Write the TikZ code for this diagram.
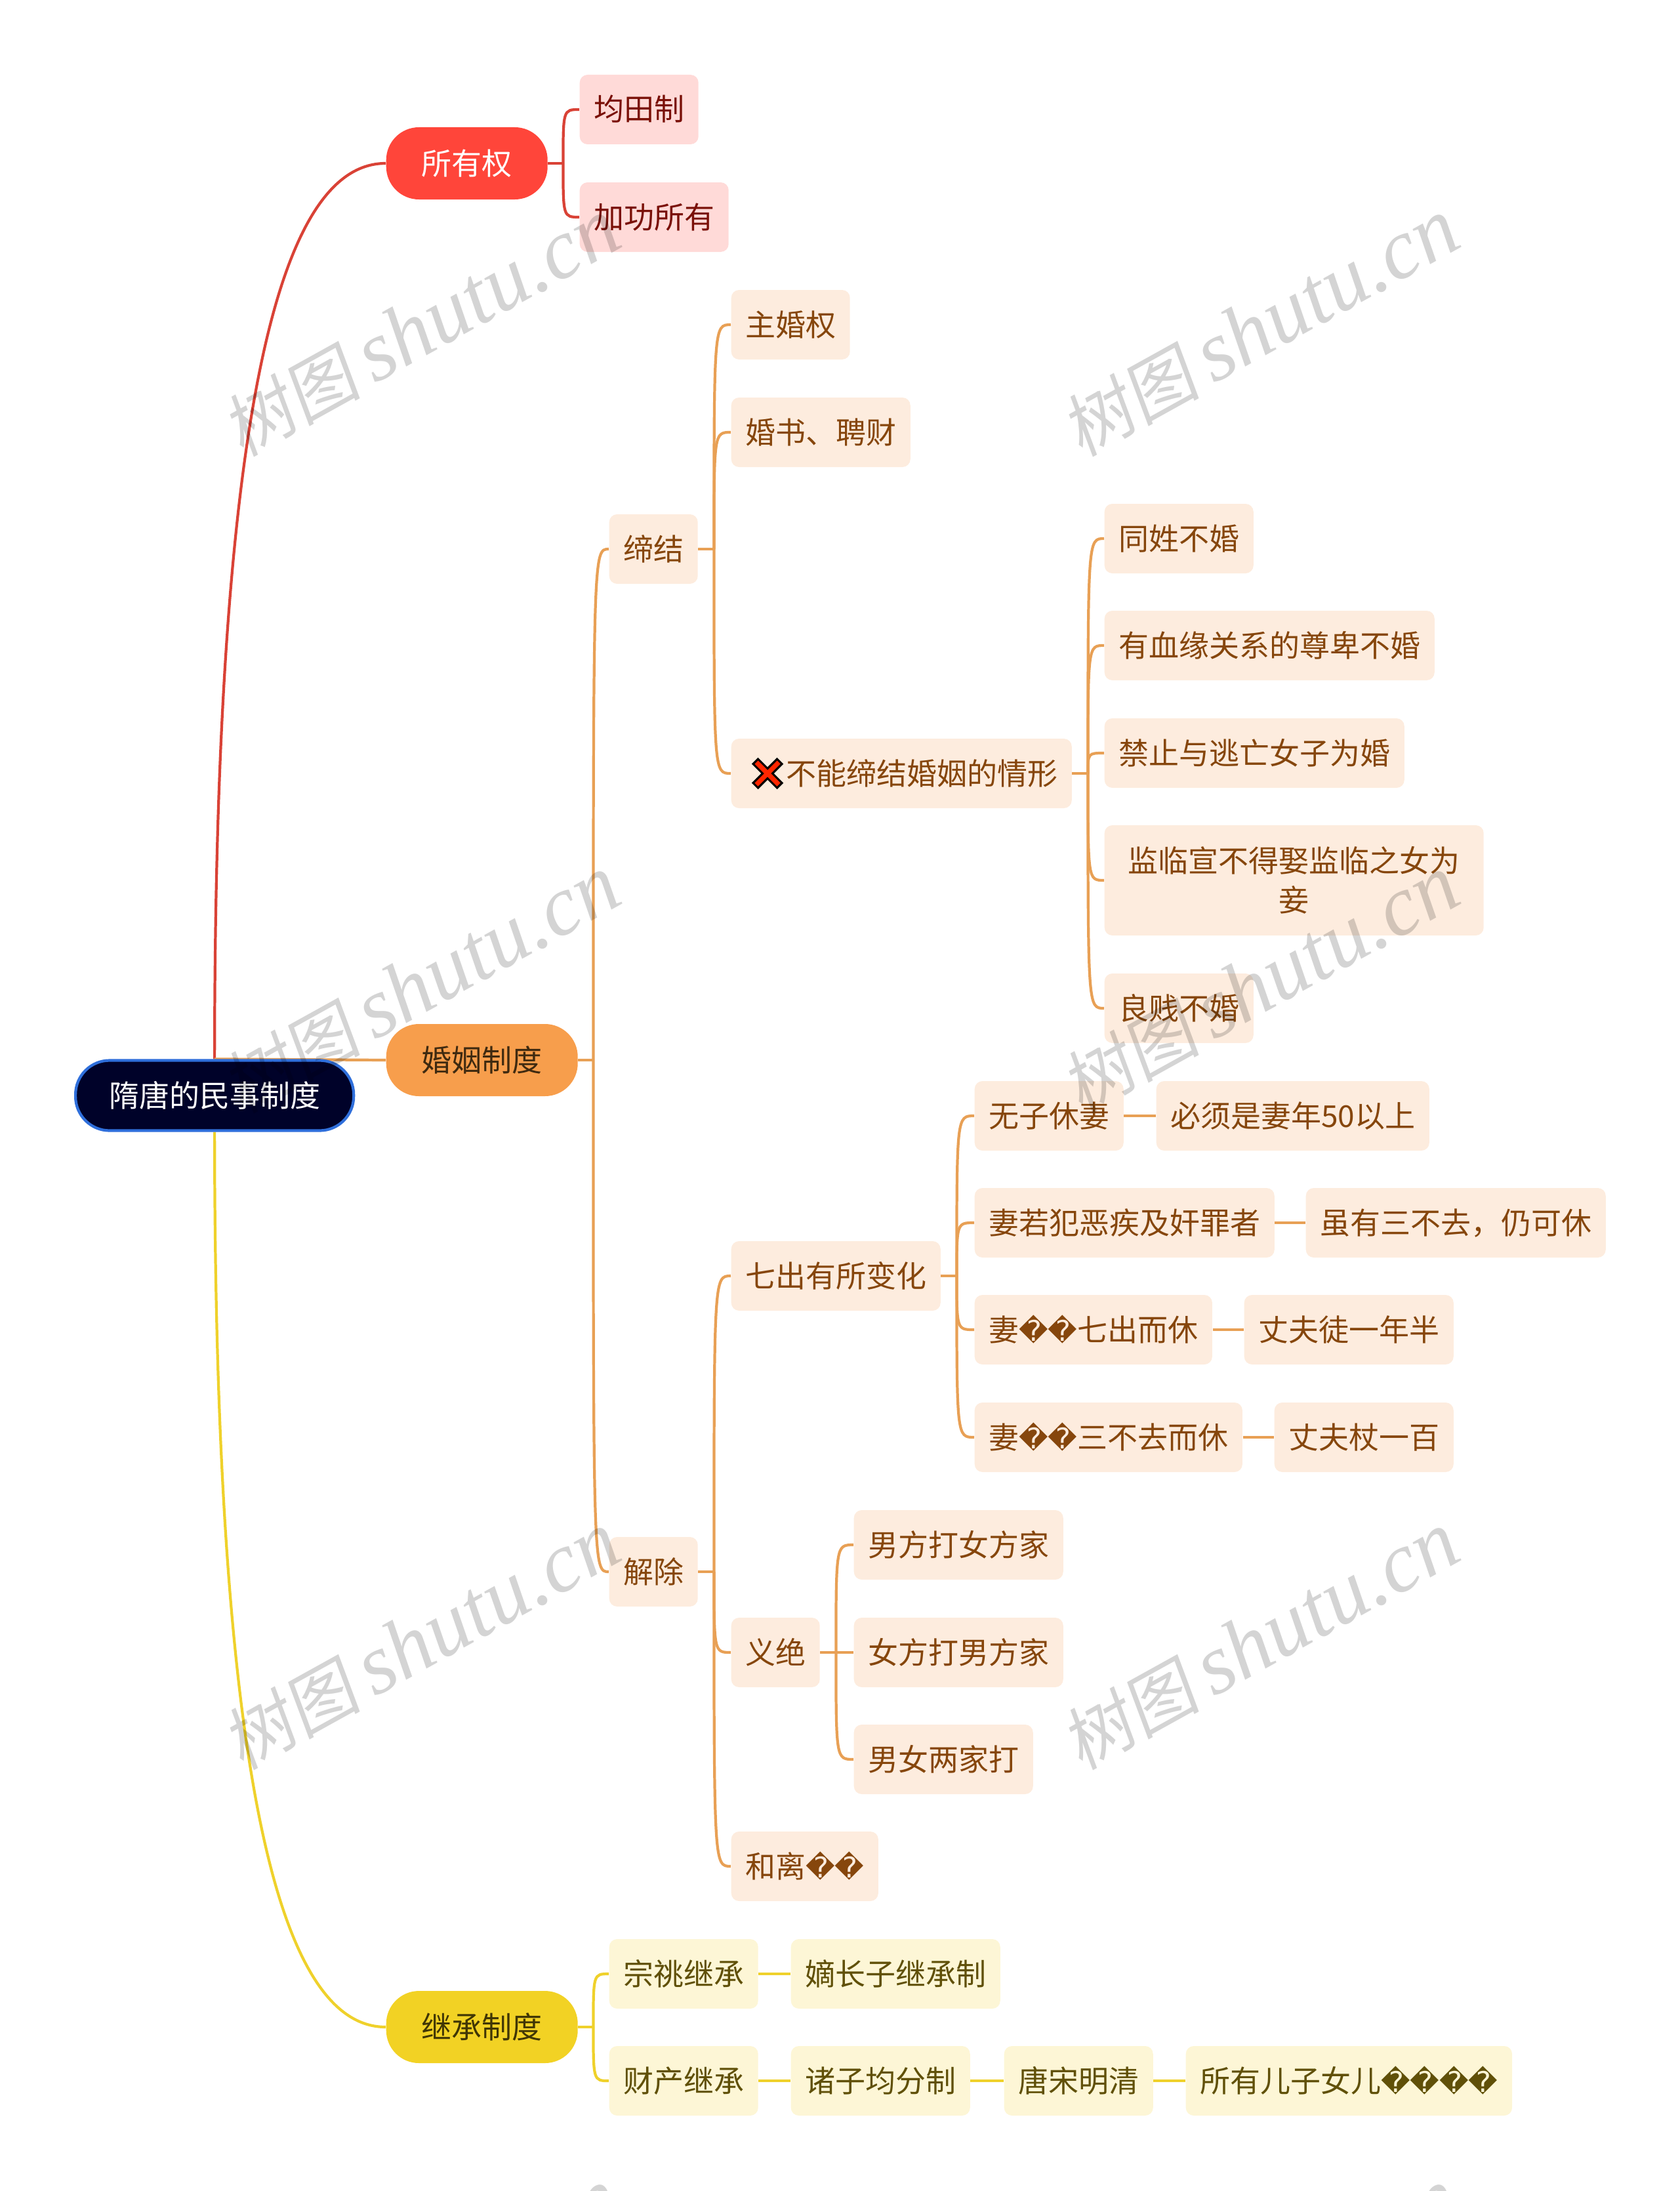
\documentclass[tikz,border=0pt]{standalone}
\usepackage{fontspec}
\usepackage{xcolor}
\usepackage{tikz}
\usetikzlibrary{calc, backgrounds}
\setmainfont{Noto Sans CJK SC}
\newfontfamily\symfont[Scale=0.945]{DejaVu Sans}
\newfontfamily\wmfont[FakeSlant=0.15]{Noto Sans CJK SC}
\newfontfamily\wmlatin{Liberation Serif}
\newcommand{\repch}{{\symfont\symbol{"FFFD}}}
\definecolor{rootfill}{RGB}{0,2,41}
\definecolor{rootline}{RGB}{47,111,219}
\definecolor{myred}{RGB}{255,69,58}
\definecolor{myorange}{RGB}{247,158,76}
\definecolor{myyellow}{RGB}{242,210,36}
\definecolor{hdrred}{RGB}{255,218,216}
\definecolor{hdrorange}{RGB}{253,236,222}
\definecolor{hdryellow}{RGB}{253,246,214}
\definecolor{txtred}{RGB}{122,16,8}
\definecolor{txtorange}{RGB}{134,70,12}
\definecolor{txtyellow}{RGB}{96,80,8}
\definecolor{lnred}{RGB}{217,66,54}
\definecolor{lnorange}{RGB}{232,160,85}
\definecolor{lnyellow}{RGB}{239,209,43}
\definecolor{txtdarko}{RGB}{63,42,16}
\definecolor{txtdarky}{RGB}{64,54,5}
\tikzset{
  base/.style={rectangle, anchor=west, font=\fontsize{13.09}{17}\selectfont,
    text height=0.40cm, text depth=0.06cm},
  rootnode/.style={base, draw=rootline, fill=rootfill, text=white, line width=1.2pt,
    rounded corners=0.52cm, minimum height=1.07cm, inner xsep=0.51cm},
  topic/.style={base, rounded corners=0.5cm, minimum height=1.10cm, inner xsep=0.54cm},
  redtopic/.style={topic, fill=myred, text=white},
  orangetopic/.style={topic, fill=myorange, text=txtdarko},
  yellowtopic/.style={topic, fill=myyellow, text=txtdarky},
  leaf/.style={base, rounded corners=0.12cm, minimum height=1.06cm, inner xsep=0.215cm},
  redleaf/.style={leaf, fill=hdrred, text=txtred},
  orangeleaf/.style={leaf, fill=hdrorange, text=txtorange},
  yellowleaf/.style={leaf, fill=hdryellow, text=txtyellow},
  redline/.style={draw=lnred, line width=1.2pt},
  orangeline/.style={draw=lnorange, line width=1.2pt},
  yellowline/.style={draw=lnyellow, line width=1.2pt}
}
\newcommand{\wmtext}{{\fontsize{30}{30}\selectfont\wmfont 树图}\hspace{0.2cm}{\fontsize{37}{37}\selectfont\wmlatin\itshape shutu.cn}}

\begin{document}
\begin{tikzpicture}[y=-1cm]
  \useasboundingbox (0,0) rectangle (25.6,33.4);

  % Root and main topics
  \node[rootnode] (root) at (1.13,16.70) {隋唐的民事制度};
  \node[redtopic] (owner) at (5.88,2.49) {所有权};
  \node[orangetopic] (marriage) at (5.88,16.16) {婚姻制度};
  \node[yellowtopic] (inherit) at (5.88,30.90) {继承制度};

  % Ownership
  \node[redleaf] (land) at (8.83,1.67) {均田制};
  \node[redleaf] (merit) at (8.83,3.31) {加功所有};

  % Marriage: conclusion
  \node[orangeleaf] (conclude) at (9.28,8.37) {缔结};
  \node[orangeleaf] (consent) at (11.14,4.95) {主婚权};
  \node[orangeleaf] (letter) at (11.14,6.59) {婚书、聘财};
  \node[orangeleaf] (forbid) at (11.14,11.79) {\hspace*{0.62cm}不能缔结婚姻的情形};
  \node[orangeleaf] (surname) at (16.83,8.21) {同姓不婚};
  \node[orangeleaf] (blood) at (16.83,9.84) {有血缘关系的尊卑不婚};
  \node[orangeleaf] (fugitive) at (16.83,11.48) {禁止与逃亡女子为婚};
  \node[orangeleaf, minimum width=5.78cm, minimum height=1.68cm, align=center, text height=, text depth=] (official) at (16.83,13.42) {监临宣不得娶监临之女为\\妾};
  \node[orangeleaf] (status) at (16.83,15.37) {良贱不婚};

  % Marriage: dissolution
  \node[orangeleaf] (dissolve) at (9.28,23.96) {解除};
  \node[orangeleaf] (seven) at (11.14,19.45) {七出有所变化};
  \node[orangeleaf] (nosonw) at (14.85,17.01) {无子休妻};
  \node[orangeleaf] (nosonn) at (17.62,17.01) {必须是妻年50以上};
  \node[orangeleaf] (crimew) at (14.85,18.64) {妻若犯恶疾及奸罪者};
  \node[orangeleaf] (crimen) at (19.90,18.64) {虽有三不去，仍可休};
  \node[orangeleaf] (sevenw) at (14.85,20.27) {妻\repch\repch 七出而休};
  \node[orangeleaf] (sevenn) at (18.96,20.27) {丈夫徒一年半};
  \node[orangeleaf] (threew) at (14.85,21.91) {妻\repch\repch 三不去而休};
  \node[orangeleaf] (threen) at (19.42,21.91) {丈夫杖一百};
  \node[orangeleaf] (yijue) at (11.14,25.19) {义绝};
  \node[orangeleaf] (hitf) at (13.01,23.55) {男方打女方家};
  \node[orangeleaf] (hitm) at (13.01,25.19) {女方打男方家};
  \node[orangeleaf] (hitb) at (13.01,26.82) {男女两家打};
  \node[orangeleaf] (mutual) at (11.14,28.45) {和离\repch\repch};

  % Inheritance
  \node[yellowleaf] (clan) at (9.28,30.09) {宗祧继承};
  \node[yellowleaf] (eldest) at (12.05,30.09) {嫡长子继承制};
  \node[yellowleaf] (estate) at (9.28,31.72) {财产继承};
  \node[yellowleaf] (equal) at (12.05,31.72) {诸子均分制};
  \node[yellowleaf] (tang) at (15.30,31.72) {唐宋明清};
  \node[yellowleaf] (allkids) at (18.07,31.72) {所有儿子女儿\repch\repch\repch\repch};

  % Cross mark inside the forbid box
  \draw[draw=black, fill=red!70!orange, line width=0.9pt, shift={($(forbid.west)+(0.56,0)$)}]
    (0,-0.075) -- (0.145,-0.22) -- (0.22,-0.145) -- (0.075,0) -- (0.22,0.145) -- (0.145,0.22)
    -- (0,0.075) -- (-0.145,0.22) -- (-0.22,0.145) -- (-0.075,0) -- (-0.22,-0.145) -- (-0.145,-0.22) -- cycle;

  % Spine points
  \coordinate (ownerj) at ($(owner.east)+(0.23,0)$);
  \coordinate (marriagej) at ($(marriage.east)+(0.23,0)$);
  \coordinate (inheritj) at ($(inherit.east)+(0.23,0)$);
  \coordinate (concludej) at ($(conclude.east)+(0.24,0)$);
  \coordinate (forbidj) at ($(forbid.east)+(0.24,0)$);
  \coordinate (dissolvej) at ($(dissolve.east)+(0.24,0)$);
  \coordinate (sevenj) at ($(seven.east)+(0.24,0)$);
  \coordinate (yijuej) at ($(yijue.east)+(0.24,0)$);

  \begin{scope}[on background layer]
    % Root links
    \draw[redline] (root.north) .. controls +(0,-10.55) and +(-1.48,0) .. (owner.west);
    \draw[orangeline] (root.north) -- (marriage.west);
    \draw[yellowline] (root.south) .. controls +(0,10.52) and +(-1.48,0) .. (inherit.west);

    % Stubs
    \draw[redline] (owner.east) -- (ownerj);
    \draw[orangeline] (marriage.east) -- (marriagej);
    \draw[yellowline] (inherit.east) -- (inheritj);
    \draw[orangeline] (conclude.east) -- (concludej);
    \draw[orangeline] (forbid.east) -- (forbidj);
    \draw[orangeline] (dissolve.east) -- (dissolvej);
    \draw[orangeline] (seven.east) -- (sevenj);
    \draw[orangeline] (yijue.east) -- (yijuej);

    % Curved branches
    \foreach \kid in {land,merit}
      \draw[redline] (ownerj) .. controls (ownerj |- \kid.west) .. (\kid.west);
    \foreach \kid in {conclude,dissolve}
      \draw[orangeline] (marriagej) .. controls (marriagej |- \kid.west) .. (\kid.west);
    \foreach \kid in {clan,estate}
      \draw[yellowline] (inheritj) .. controls (inheritj |- \kid.west) .. (\kid.west);
    \foreach \kid in {consent,letter,forbid}
      \draw[orangeline] (concludej) .. controls (concludej |- \kid.west) .. (\kid.west);
    \foreach \kid in {surname,blood,fugitive,official,status}
      \draw[orangeline] (forbidj) .. controls (forbidj |- \kid.west) .. (\kid.west);
    \foreach \kid in {seven,yijue,mutual}
      \draw[orangeline] (dissolvej) .. controls (dissolvej |- \kid.west) .. (\kid.west);
    \foreach \kid in {nosonw,crimew,sevenw,threew}
      \draw[orangeline] (sevenj) .. controls (sevenj |- \kid.west) .. (\kid.west);
    \foreach \kid in {hitf,hitm,hitb}
      \draw[orangeline] (yijuej) .. controls (yijuej |- \kid.west) .. (\kid.west);

    % Straight links
    \draw[orangeline] (nosonw.east) -- (nosonn.west);
    \draw[orangeline] (crimew.east) -- (crimen.west);
    \draw[orangeline] (sevenw.east) -- (sevenn.west);
    \draw[orangeline] (threew.east) -- (threen.west);
    \draw[yellowline] (clan.east) -- (eldest.west);
    \draw[yellowline] (estate.east) -- (equal.west);
    \draw[yellowline] (equal.east) -- (tang.west);
    \draw[yellowline] (tang.east) -- (allkids.west);
  \end{scope}

  % Watermark tiles
  \foreach \wx in {6.42,19.21}
    \foreach \wy in {5.00,15.01,25.02,35.03}
      \node[rotate=29, text=black, text opacity=0.17] at (\wx,\wy) {\wmtext};
\end{tikzpicture}
\end{document}
